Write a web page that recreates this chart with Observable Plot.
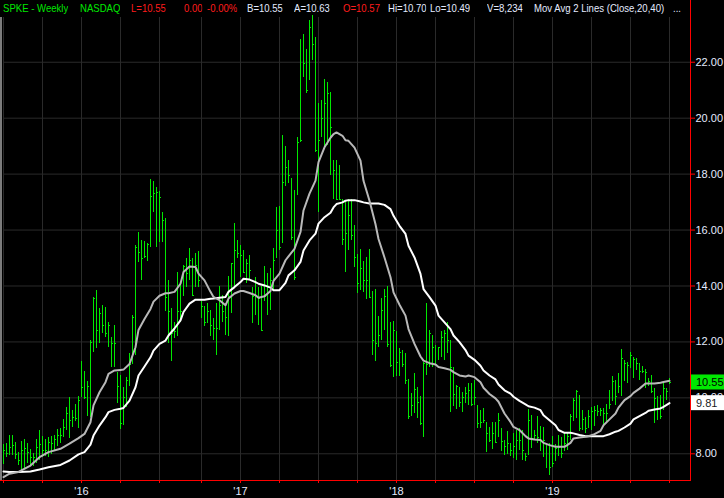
<!DOCTYPE html>
<html><head><meta charset="utf-8">
<script src="https://cdn.jsdelivr.net/npm/d3@7"></script>
<script src="https://cdn.jsdelivr.net/npm/@observablehq/plot@0.6"></script>
<style>
html,body{margin:0;padding:0;background:#000;}
#wrap{position:relative;width:724px;height:498px;overflow:hidden;background:#000;}
#chart svg{display:block;}
#hdr{position:absolute;left:0;top:0;width:688px;height:17px;overflow:hidden;font:11px "Liberation Sans",Arial,sans-serif;white-space:nowrap;}
#hdr span{position:absolute;top:2px;overflow:hidden;transform:scaleX(0.87);transform-origin:0 0;}
</style></head><body>
<div id="wrap"><div id="chart"></div><div id="hdr"></div></div>
<script>
// ---- data ----
const firstWeek = "2015-07-03"; // weekly bars, one per Friday
const high = [
8.33,8.36,8.64,8.65,8.42,8.06,8.45,8.50,8.36,8.14,
8.02,8.50,8.83,8.62,8.50,8.60,8.62,8.64,8.86,8.92,
9.21,9.64,10.00,9.55,9.75,10.05,11.29,10.93,10.57,12.05,
13.60,13.83,13.21,13.30,13.24,12.70,12.17,12.57,10.92,10.80,
10.36,10.71,11.60,12.93,15.44,15.90,15.64,15.60,15.52,17.82,
17.74,17.52,17.38,16.63,
16.40,14.20,13.19,12.71,14.50,14.11,14.74,14.98,15.33,14.98,
15.15,15.25,13.43,13.25,13.37,13.13,12.83,13.37,13.99,13.67,
13.37,14.35,14.82,16.23,15.63,15.45,15.27,14.94,15.10,13.96,
14.32,13.96,13.99,14.68,14.44,14.62,15.33,16.82,16.85,19.38,
18.99,18.49,17.83,17.42,19.32,22.83,23.01,22.44,23.49,23.67,
22.89,20.51,20.63,21.40,21.29,20.93,
18.48,18.48,18.30,17.11,17.05,17.11,17.11,16.15,15.14,15.30,
14.87,15.02,15.30,13.80,13.86,12.90,13.54,13.86,13.98,12.70,
12.73,12.37,11.75,11.71,11.57,10.64,10.17,10.86,10.38,10.05,
11.27,13.38,12.40,12.23,11.87,11.81,12.37,12.40,12.70,12.05,
11.10,10.44,10.36,10.20,10.36,10.52,10.52,10.62,9.73,9.55,
9.61,9.13,8.95,9.13,9.13,9.43,
8.90,8.49,8.79,8.37,8.73,8.85,8.90,8.85,8.01,9.58,
9.38,8.85,9.35,8.96,8.94,8.37,8.37,8.61,8.35,8.67,
8.58,8.75,8.73,9.40,9.98,10.27,10.10,9.56,9.29,9.56,
9.65,9.70,9.74,9.62,9.62,9.77,10.27,10.77,10.63,10.87,
11.73,11.35,11.27,11.61,11.46,11.40,11.23,11.11,11.01,10.69,
10.81,10.33,10.04,10.10,10.57,10.33,10.70];
const low = [
7.62,7.86,7.94,7.93,7.79,7.58,7.40,7.43,7.64,7.58,
7.55,7.64,7.76,7.88,7.90,7.86,7.98,8.12,8.26,8.38,
8.60,8.83,8.54,8.95,9.17,8.89,10.02,9.95,9.33,9.31,
11.63,11.75,11.93,12.29,12.17,11.81,11.10,11.10,9.79,8.86,
9.01,9.67,10.40,11.21,11.51,14.85,14.19,15.00,14.88,15.38,
16.63,15.36,15.56,15.56,
13.10,11.94,11.29,12.12,12.18,12.71,13.61,13.96,14.20,13.61,
13.96,13.96,12.83,12.54,12.65,12.18,12.06,11.52,12.42,12.71,
12.24,12.18,13.01,13.96,14.98,14.32,14.44,14.08,14.20,12.65,
12.95,12.60,12.36,13.43,12.95,13.13,13.85,14.98,15.27,15.51,
17.54,17.65,15.63,14.20,17.24,19.14,21.46,20.87,21.35,22.06,
18.79,16.64,19.32,18.96,19.02,17.95,
17.11,17.05,17.05,15.44,14.49,15.26,15.62,14.67,13.74,13.83,
13.77,13.50,13.57,11.51,11.30,11.81,12.05,12.40,11.81,11.10,
10.71,10.76,10.76,11.10,10.48,9.21,9.33,9.43,9.25,9.01,
8.60,10.80,11.10,11.10,11.15,11.33,11.45,11.33,11.57,9.49,
9.69,9.57,9.64,9.49,9.81,9.73,9.69,9.73,8.89,8.89,
9.07,8.06,8.42,8.14,8.36,8.60,
8.07,7.95,7.99,7.92,7.83,7.75,8.13,7.75,7.71,7.95,
8.19,8.49,8.37,8.07,7.87,7.48,7.24,7.51,7.71,7.89,
7.83,8.07,8.13,8.49,9.14,9.26,8.79,8.85,8.73,8.90,
8.85,8.96,9.32,9.32,9.02,9.08,9.58,9.86,9.74,10.15,
10.04,10.57,10.51,11.05,10.69,10.99,10.63,10.87,10.33,10.39,
10.15,9.08,9.20,9.23,9.56,9.92,10.49];
const close = [
8.12,8.00,8.21,8.30,7.98,7.76,8.12,8.18,8.06,7.86,
7.88,8.24,8.33,8.12,8.10,8.42,8.36,8.50,8.65,8.65,
8.95,9.43,9.19,9.31,9.25,9.90,10.38,10.00,10.42,11.99,
13.57,12.40,13.00,12.58,12.31,12.58,11.95,11.93,10.40,9.07,
10.02,10.62,11.21,12.88,15.38,15.20,15.00,15.05,15.50,17.19,
17.29,17.35,17.17,16.33,
13.60,13.07,12.30,12.36,13.07,13.07,14.68,14.44,14.92,13.67,
14.74,14.20,13.25,12.71,13.07,12.60,12.48,12.48,13.31,13.07,
12.89,13.61,14.80,15.27,15.15,15.10,14.50,14.80,14.56,13.61,
13.61,13.55,12.42,13.61,13.96,14.20,14.92,15.99,15.39,17.71,
18.25,17.95,15.75,14.32,19.14,19.20,21.94,20.99,23.25,22.65,
18.85,19.20,19.98,20.51,20.87,19.68,
18.14,17.11,17.11,15.68,15.86,16.51,15.80,15.02,14.10,14.61,
14.19,14.21,13.60,12.05,11.93,12.23,13.14,13.62,11.90,11.15,
12.40,11.27,11.63,11.21,10.62,9.33,9.73,10.29,9.85,9.10,
11.24,11.21,12.29,11.81,11.21,11.79,12.17,12.29,12.05,11.10,
10.12,10.40,9.85,10.02,10.14,10.26,9.76,10.02,9.07,9.13,
9.19,8.71,8.48,8.71,8.42,9.19,
8.43,8.27,8.37,8.11,8.25,8.49,8.49,8.13,7.92,9.20,
8.55,8.67,8.58,8.49,8.49,8.35,7.51,7.65,8.19,8.23,
8.01,8.37,8.61,9.35,9.89,10.21,8.90,9.23,8.90,9.32,
9.50,9.56,9.50,9.56,9.44,9.44,9.77,10.57,10.04,10.39,
11.40,11.23,11.17,11.52,11.37,11.23,10.96,10.93,10.89,10.57,
10.21,9.98,9.62,9.32,10.33,10.21,10.55];

// moving averages, at these week numbers
const maWeek = [0,2,5,9,12,15,19,22,25,27,29,30,32,34,35,37,39,40,42,44,45,47,49,50,52,54,55,57,59,60,62,64,65,67,69,70,72,74,75,77,79,80,82,84,85,87,89,90,92,94,95,97,99,100,102,104,105,107,109,110,111,113,114,115,117,119,120,122,124,125,127,129,130,132,134,135,137,139,140,142,144,145,147,149,150,152,154,155,157,159,160,162,164,165,167,169,170,172,174,175,177,179,180,182,184,185,187,189,190,192,194,195,197,199,200,202,204,205,207,209,210,212,214,215,217,219,220,222];
const ma20 = [7.17,7.29,7.35,7.58,7.88,8.06,8.18,8.36,8.56,8.71,9.13,9.73,10.20,10.56,10.86,10.98,11.00,11.01,11.21,11.81,12.43,12.82,13.18,13.44,13.65,13.74,13.74,13.79,14.08,14.50,14.70,14.68,14.44,14.20,13.79,13.61,13.49,13.31,13.55,13.73,13.82,13.82,13.75,13.67,13.58,13.63,13.82,14.18,14.44,14.92,15.06,15.33,15.93,16.70,17.30,17.77,18.43,18.96,19.30,19.43,19.49,19.37,19.21,19.19,18.95,18.48,17.76,17.05,16.21,15.68,15.02,14.31,13.77,13.33,12.94,12.46,11.93,11.48,11.33,11.24,11.19,11.10,11.06,11.00,10.92,10.80,10.76,10.80,10.74,10.56,10.36,10.14,9.98,9.86,9.44,9.14,8.96,8.85,8.63,8.55,8.51,8.49,8.39,8.31,8.25,8.25,8.25,8.39,8.55,8.58,8.61,8.63,8.70,8.82,9.02,9.23,9.44,9.65,9.92,10.06,10.18,10.33,10.51,10.51,10.51,10.54,10.57,10.61];
const ma40 = [7.37,7.35,7.35,7.37,7.44,7.52,7.60,7.76,7.98,8.06,8.33,8.65,9.01,9.31,9.49,9.57,9.61,9.64,9.90,10.38,10.80,11.12,11.45,11.69,11.93,12.05,12.23,12.48,12.77,13.07,13.37,13.51,13.51,13.51,13.54,13.55,13.58,13.61,13.79,13.96,14.14,14.26,14.23,14.14,14.08,14.02,13.94,13.85,13.85,14.11,14.38,14.56,14.86,15.27,15.63,15.87,16.23,16.46,16.62,16.81,16.93,16.99,17.05,17.07,17.07,17.02,16.99,16.95,16.95,16.95,16.90,16.75,16.51,16.15,15.86,15.44,15.02,14.43,13.89,13.60,13.30,12.94,12.70,12.46,12.23,11.99,11.71,11.51,11.36,11.15,10.98,10.80,10.66,10.48,10.27,10.15,10.04,9.89,9.77,9.70,9.65,9.56,9.38,9.20,9.02,8.85,8.75,8.75,8.73,8.67,8.63,8.63,8.63,8.63,8.63,8.70,8.79,8.82,8.94,9.08,9.23,9.35,9.46,9.54,9.58,9.62,9.68,9.81];

const priceTicks = [8, 10, 12, 14, 16, 18, 20, 22];
const lastClose = 10.55;
const lastMa40 = 9.81;
const headerItems = [
  ["SPKE - Weekly", "g"], ["NASDAQ", "g"], ["L=10.55", "r"], ["0.00", "r"], ["-0.00%", "r"],
  ["B=10.55", "w"], ["A=10.63", "w"], ["O=10.57", "r"], ["Hi=10.70", "w"], ["Lo=10.49", "w"],
  ["V=8,234", "w"], ["Mov Avg 2 Lines (Close,20,40)", "w"], ["...", "w"]
];

// ---- build ----
const GREEN = "#00e800", RED = "#ff1c1c", LIGHT = "#e4ebff", GRID = "#2a2a2a";
const start = new Date(firstWeek + "T00:00:00Z");
const bars = high.map((h, i) => ({i, date: d3.utcDay.offset(start, 7 * i), high: h, low: low[i], close: close[i]}));
const ma = maWeek.map((w, k) => ({i: w, ma20: ma20[k], ma40: ma40[k]}));
const firstIdx = (dt) => d3.bisector(d => d.date).left(bars, dt);
const quarterIdx = d3.utcMonths(new Date("2015-07-01T00:00:00Z"), new Date("2019-10-02T00:00:00Z"), 3)
  .map(firstIdx).filter(i => i < bars.length);
const yearIdx = d3.utcYears(new Date("2016-01-01T00:00:00Z"), new Date("2019-01-02T00:00:00Z")).map(firstIdx);
const FONT = '"Liberation Sans", Arial, sans-serif';

const chart = Plot.plot({
  width: 724, height: 498,
  marginLeft: 3, marginRight: 34, marginTop: 17, marginBottom: 18,
  style: {background: "#000", fontFamily: FONT, fontSize: "11px", color: LIGHT},
  x: {type: "linear", domain: [0, 229], axis: null},
  y: {domain: [7.045, 23.6], axis: null},
  marks: [
    Plot.ruleX(quarterIdx, {stroke: GRID}),
    Plot.ruleY(priceTicks, {stroke: GRID}),
    Plot.ruleX(bars, {x: "i", y1: "low", y2: "high", stroke: GREEN, shapeRendering: "crispEdges"}),
    Plot.ruleY(bars, {y: "close", x1: "i", x2: d => d.i + 0.6, stroke: GREEN, shapeRendering: "crispEdges"}),
    Plot.line(ma, {x: "i", y: "ma40", stroke: "#ffffff", strokeWidth: 2}),
    Plot.line(ma, {x: "i", y: "ma20", stroke: "#b8b8b8", strokeWidth: 2}),
    Plot.axisY(priceTicks, {anchor: "right", tickSize: 4, tickPadding: 1, stroke: "#ff0000", fill: LIGHT,
      tickFormat: d => d.toFixed(2), fontSize: 11, label: null}),
    Plot.axisX(quarterIdx, {anchor: "bottom", tickSize: 3, stroke: "#ff0000", tickFormat: () => "", label: null}),
    Plot.axisX(yearIdx, {anchor: "bottom", tickSize: 0, tickPadding: 7, fill: LIGHT, fontSize: 11, label: null,
      tickFormat: i => "'" + String(bars[i].date.getUTCFullYear()).slice(2)})
  ]
});
document.getElementById("chart").appendChild(chart);

// frame lines and last-value boxes
const svg = d3.select(chart);
const ys = chart.scale("y");
svg.append("rect").attr("x", 0).attr("y", 17).attr("width", 2).attr("height", 463).attr("fill", "#7c7c7c");
svg.append("line").attr("x1", 0).attr("x2", 690).attr("y1", 480.5).attr("y2", 480.5).attr("stroke", "#ff0000");
svg.append("line").attr("x1", 690.5).attr("x2", 690.5).attr("y1", 0).attr("y2", 481).attr("stroke", "#ff0000");
[[lastClose, GREEN, "#000"], [lastMa40, "#ffffff", "#1a1a1a"]].forEach(([v, bg, fg]) => {
  const yy = ys.apply(v);
  svg.append("rect").attr("x", 691).attr("y", yy - 7.5).attr("width", 33).attr("height", 15).attr("fill", bg);
  svg.append("text").attr("x", 696).attr("y", yy).attr("dy", "0.35em").attr("fill", fg)
    .attr("text-anchor", "start").attr("font-family", FONT).attr("font-size", 11).text(v.toFixed(2));
});

// header line
const colors = {g: GREEN, r: RED, w: LIGHT};
const lefts = [3, 80, 131, 184, 207, 247, 294, 343, 388, 430, 487, 534, 673];
const hdr = document.getElementById("hdr");
headerItems.forEach(([t, c], k) => {
  const s = document.createElement("span");
  s.textContent = t;
  s.style.color = colors[c];
  s.style.left = lefts[k] + "px";
  if (k === 11) s.style.width = "154px";
  hdr.appendChild(s);
});
</script>
</body></html>
